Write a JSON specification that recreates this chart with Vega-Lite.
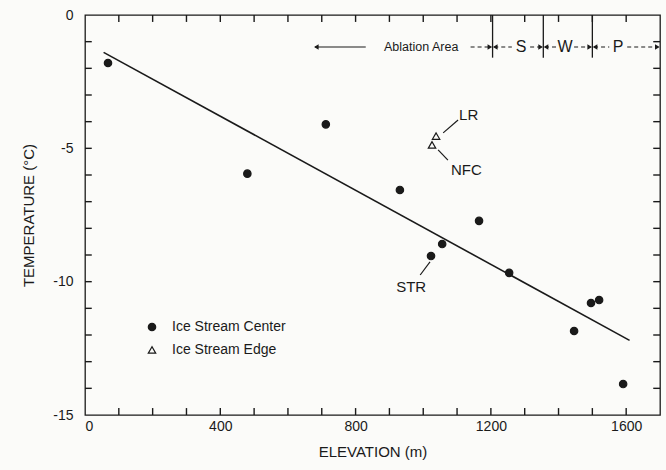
{
  "$schema": "https://vega.github.io/schema/vega-lite/v6.json",
  "width": 575,
  "height": 400,
  "autosize": "none",
  "padding": {"left": 85, "top": 15, "right": 6, "bottom": 55},
  "background": "#fbfbf9",
  "config": {
    "view": {"stroke": "#1a1a1a", "strokeWidth": 1.3},
    "font": "Liberation Sans",
    "axis": {
      "domain": false,
      "ticks": false,
      "grid": false,
      "labelColor": "#1a1a1a",
      "labelFontSize": 14,
      "titleColor": "#1a1a1a",
      "titleFontSize": 15,
      "titleFontWeight": "normal"
    }
  },
  "datasets": {
    "fit": [
      {"elevation": 55, "temperature": -1.4},
      {"elevation": 1610, "temperature": -12.2}
    ],
    "sites": [
      {"elevation": 68, "temperature": -1.8, "type": "Ice Stream Center"},
      {"elevation": 480, "temperature": -5.95, "type": "Ice Stream Center"},
      {"elevation": 712, "temperature": -4.1, "type": "Ice Stream Center"},
      {"elevation": 931, "temperature": -6.56, "type": "Ice Stream Center"},
      {"elevation": 1023, "temperature": -9.04, "type": "Ice Stream Center"},
      {"elevation": 1056, "temperature": -8.59, "type": "Ice Stream Center"},
      {"elevation": 1165, "temperature": -7.72, "type": "Ice Stream Center"},
      {"elevation": 1254, "temperature": -9.67, "type": "Ice Stream Center"},
      {"elevation": 1446, "temperature": -11.85, "type": "Ice Stream Center"},
      {"elevation": 1496, "temperature": -10.8, "type": "Ice Stream Center"},
      {"elevation": 1520, "temperature": -10.69, "type": "Ice Stream Center"},
      {"elevation": 1591, "temperature": -13.84, "type": "Ice Stream Center"},
      {"elevation": 1038, "temperature": -4.54, "type": "Ice Stream Edge"},
      {"elevation": 1026, "temperature": -4.87, "type": "Ice Stream Edge"}
    ],
    "elevationTicks": [
      {"elevation": 100}, {"elevation": 200}, {"elevation": 300}, {"elevation": 400},
      {"elevation": 500}, {"elevation": 600}, {"elevation": 700}, {"elevation": 800},
      {"elevation": 900}, {"elevation": 1000}, {"elevation": 1100}, {"elevation": 1200},
      {"elevation": 1300}, {"elevation": 1400}, {"elevation": 1500}, {"elevation": 1600}
    ],
    "temperatureTicks": [
      {"temperature": -14}, {"temperature": -13}, {"temperature": -12}, {"temperature": -11},
      {"temperature": -10}, {"temperature": -9}, {"temperature": -8}, {"temperature": -7},
      {"temperature": -6}, {"temperature": -5}, {"temperature": -4}, {"temperature": -3},
      {"temperature": -2}, {"temperature": -1}
    ],
    "leaders": [
      {"x1": 1103, "y1": -3.94, "x2": 1059, "y2": -4.42},
      {"x1": 1044, "y1": -5.06, "x2": 1073, "y2": -5.44},
      {"x1": 1020, "y1": -9.26, "x2": 991, "y2": -9.75}
    ],
    "siteLabels": [
      {"elevation": 1106, "temperature": -3.75, "label": "LR"},
      {"elevation": 1082, "temperature": -5.81, "label": "NFC"},
      {"elevation": 920, "temperature": -10.2, "label": "STR"}
    ],
    "zoneBounds": [
      {"elevation": 1205},
      {"elevation": 1355},
      {"elevation": 1500}
    ],
    "ablationLead": [
      {"from": 680, "to": 830}
    ],
    "zoneDashes": [
      {"from": 1140, "to": 1200},
      {"from": 1210, "to": 1262},
      {"from": 1316, "to": 1350},
      {"from": 1360, "to": 1393},
      {"from": 1446, "to": 1495},
      {"from": 1505, "to": 1550},
      {"from": 1603, "to": 1695}
    ],
    "leftHeads": [
      {"elevation": 684},
      {"elevation": 1213},
      {"elevation": 1363},
      {"elevation": 1508}
    ],
    "rightHeads": [
      {"elevation": 1197},
      {"elevation": 1347},
      {"elevation": 1492},
      {"elevation": 1692}
    ],
    "zoneSmall": [
      {"elevation": 994, "label": "Ablation Area"}
    ],
    "zoneBig": [
      {"elevation": 1289, "label": "S"},
      {"elevation": 1419, "label": "W"},
      {"elevation": 1576, "label": "P"}
    ]
  },
  "layer": [
    {
      "data": {"name": "fit"},
      "mark": {"type": "line", "color": "#1a1a1a", "strokeWidth": 1.6},
      "encoding": {
        "x": {
          "field": "elevation", "type": "quantitative",
          "scale": {"domain": [0, 1700], "nice": false, "zero": false},
          "axis": {
            "orient": "bottom",
            "title": "ELEVATION (m)",
            "values": [0, 400, 800, 1200, 1600],
            "labelExpr": "'' + datum.value",
            "labelPadding": 4,
            "titlePadding": 11
          }
        },
        "y": {
          "field": "temperature", "type": "quantitative",
          "scale": {"domain": [-15, 0], "nice": false, "zero": false},
          "axis": {
            "orient": "left",
            "title": "TEMPERATURE (°C)",
            "values": [-15, -10, -5, 0],
            "labelExpr": "'' + datum.value",
            "labelPadding": 12,
            "titlePadding": 16
          }
        }
      }
    },
    {
      "data": {"name": "elevationTicks"},
      "mark": {"type": "rule", "color": "#1a1a1a", "strokeWidth": 1.4},
      "encoding": {
        "x": {"field": "elevation", "type": "quantitative"},
        "y": {"datum": -15, "type": "quantitative"},
        "y2": {"datum": -14.74}
      }
    },
    {
      "data": {"name": "elevationTicks"},
      "mark": {"type": "rule", "color": "#1a1a1a", "strokeWidth": 1.4},
      "encoding": {
        "x": {"field": "elevation", "type": "quantitative"},
        "y": {"datum": 0, "type": "quantitative"},
        "y2": {"datum": -0.26}
      }
    },
    {
      "data": {"name": "temperatureTicks"},
      "mark": {"type": "rule", "color": "#1a1a1a", "strokeWidth": 1.4},
      "encoding": {
        "x": {"datum": 0, "type": "quantitative"},
        "x2": {"datum": 20},
        "y": {"field": "temperature", "type": "quantitative"}
      }
    },
    {
      "data": {"name": "temperatureTicks"},
      "mark": {"type": "rule", "color": "#1a1a1a", "strokeWidth": 1.4},
      "encoding": {
        "x": {"datum": 1700, "type": "quantitative"},
        "x2": {"datum": 1680},
        "y": {"field": "temperature", "type": "quantitative"}
      }
    },
    {
      "data": {"name": "sites"},
      "mark": {"type": "point", "strokeWidth": 1.2, "opacity": 1, "size": 55},
      "encoding": {
        "x": {"field": "elevation", "type": "quantitative"},
        "y": {"field": "temperature", "type": "quantitative"},
        "shape": {
          "field": "type", "type": "nominal",
          "scale": {"domain": ["Ice Stream Center", "Ice Stream Edge"], "range": ["circle", "triangle-up"]},
          "legend": {
            "orient": "none", "legendX": 60, "legendY": 305, "title": null,
            "labelFontSize": 14, "labelColor": "#1a1a1a", "symbolSize": 55,
            "symbolStrokeWidth": 1.2, "rowPadding": 9, "labelOffset": 13
          }
        },
        "fill": {
          "field": "type", "type": "nominal",
          "scale": {"domain": ["Ice Stream Center", "Ice Stream Edge"], "range": ["#1a1a1a", "#fbfbf9"]},
          "legend": {
            "orient": "none", "legendX": 60, "legendY": 305, "title": null,
            "labelFontSize": 14, "labelColor": "#1a1a1a", "symbolSize": 55,
            "symbolStrokeWidth": 1.2, "rowPadding": 9, "labelOffset": 13
          }
        },
        "stroke": {
          "field": "type", "type": "nominal",
          "scale": {"domain": ["Ice Stream Center", "Ice Stream Edge"], "range": ["#1a1a1a", "#1a1a1a"]},
          "legend": {
            "orient": "none", "legendX": 60, "legendY": 305, "title": null,
            "labelFontSize": 14, "labelColor": "#1a1a1a", "symbolSize": 55,
            "symbolStrokeWidth": 1.2, "rowPadding": 9, "labelOffset": 13
          }
        }
      }
    },
    {
      "data": {"name": "leaders"},
      "mark": {"type": "rule", "color": "#1a1a1a", "strokeWidth": 1.2},
      "encoding": {
        "x": {"field": "x1", "type": "quantitative"},
        "y": {"field": "y1", "type": "quantitative"},
        "x2": {"field": "x2"},
        "y2": {"field": "y2"}
      }
    },
    {
      "data": {"name": "siteLabels"},
      "mark": {"type": "text", "align": "left", "baseline": "middle", "fontSize": 15, "color": "#1a1a1a"},
      "encoding": {
        "x": {"field": "elevation", "type": "quantitative"},
        "y": {"field": "temperature", "type": "quantitative"},
        "text": {"field": "label"}
      }
    },
    {
      "data": {"name": "zoneBounds"},
      "mark": {"type": "rule", "color": "#1a1a1a", "strokeWidth": 1.3},
      "encoding": {
        "x": {"field": "elevation", "type": "quantitative"},
        "y": {"datum": 0, "type": "quantitative"},
        "y2": {"datum": -1.6}
      }
    },
    {
      "data": {"name": "ablationLead"},
      "mark": {"type": "rule", "color": "#1a1a1a", "strokeWidth": 1.1},
      "encoding": {
        "x": {"field": "from", "type": "quantitative"},
        "x2": {"field": "to"},
        "y": {"datum": -1.2, "type": "quantitative"}
      }
    },
    {
      "data": {"name": "zoneDashes"},
      "mark": {"type": "rule", "color": "#1a1a1a", "strokeWidth": 1.1, "strokeDash": [4, 3]},
      "encoding": {
        "x": {"field": "from", "type": "quantitative"},
        "x2": {"field": "to"},
        "y": {"datum": -1.2, "type": "quantitative"}
      }
    },
    {
      "data": {"name": "leftHeads"},
      "mark": {"type": "point", "shape": "triangle-left", "filled": true, "color": "#1a1a1a", "size": 28, "opacity": 1},
      "encoding": {
        "x": {"field": "elevation", "type": "quantitative"},
        "y": {"datum": -1.2, "type": "quantitative"}
      }
    },
    {
      "data": {"name": "rightHeads"},
      "mark": {"type": "point", "shape": "triangle-right", "filled": true, "color": "#1a1a1a", "size": 28, "opacity": 1},
      "encoding": {
        "x": {"field": "elevation", "type": "quantitative"},
        "y": {"datum": -1.2, "type": "quantitative"}
      }
    },
    {
      "data": {"name": "zoneSmall"},
      "mark": {"type": "text", "align": "center", "baseline": "middle", "fontSize": 12.5, "color": "#1a1a1a"},
      "encoding": {
        "x": {"field": "elevation", "type": "quantitative"},
        "y": {"datum": -1.2, "type": "quantitative"},
        "text": {"field": "label"}
      }
    },
    {
      "data": {"name": "zoneBig"},
      "mark": {"type": "text", "align": "center", "baseline": "middle", "fontSize": 16, "color": "#1a1a1a"},
      "encoding": {
        "x": {"field": "elevation", "type": "quantitative"},
        "y": {"datum": -1.2, "type": "quantitative"},
        "text": {"field": "label"}
      }
    }
  ]
}
